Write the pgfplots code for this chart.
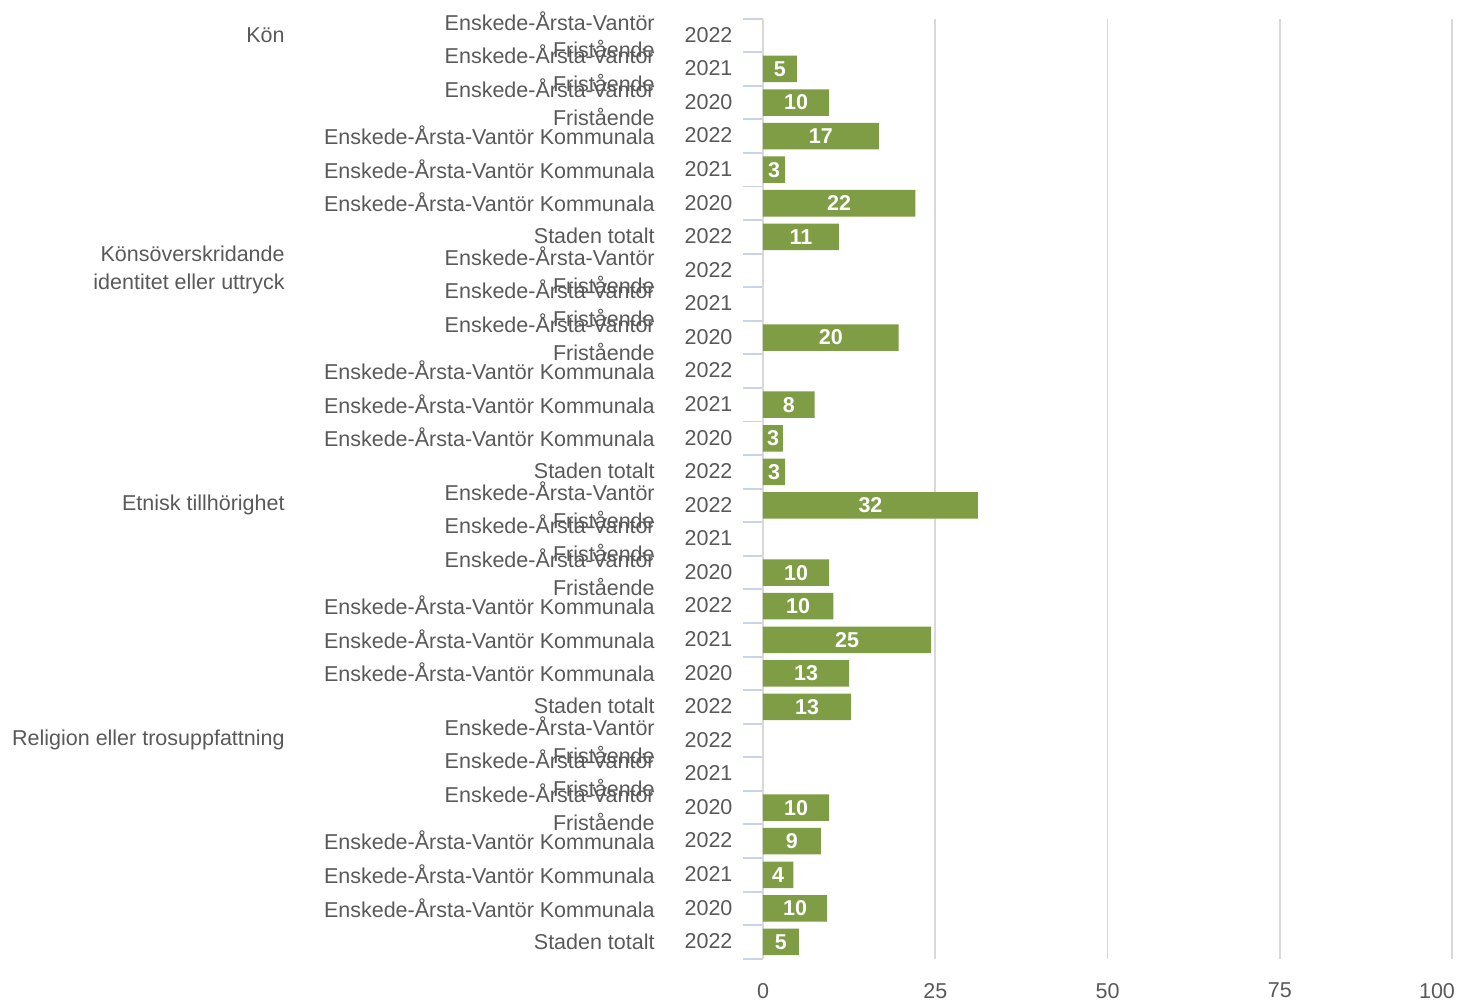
\documentclass[border=0pt]{standalone}
\usepackage{fontspec}
\setmainfont{Liberation Sans}
\usepackage{pgfplots}
\pgfplotsset{compat=1.18}
\definecolor{bargreen}{HTML}{7E9D44}
\definecolor{txtgray}{HTML}{595959}
\definecolor{gridgray}{HTML}{D9D9D9}
\definecolor{tickblue}{HTML}{C9D2EA}

\begin{document}
\begin{tikzpicture}[font=\fontsize{10}{13}\selectfont, text=txtgray]
\useasboundingbox (-354.9pt,-19.16pt) rectangle (322.8pt,445.95pt);
\begin{axis}[
  scale only axis, width=320.5pt, height=437.3pt,
  xmin=0, xmax=100, ymin=0.5, ymax=28.5,
  axis lines*=left, axis line style={-},
  x axis line style={draw=none},
  y axis line style={draw=gridgray, line width=0.9pt},
  xtick={0,25,50,75,100},
  xticklabels={0,25,50,75,100\hspace*{14pt}},
  xmajorgrids, major grid style={draw=gridgray, line width=0.9pt},
  major tick length=0pt,
  ytick={1,...,28},
  yticklabels={2022,2020,2021,2022,2020,2021,2022,
               2022,2020,2021,2022,2020,2021,2022,
               2022,2020,2021,2022,2020,2021,2022,
               2022,2020,2021,2022,2020,2021,2022},
  minor ytick={0.5,1.5,...,28.5},
  minor tick length=9.3pt, tick align=outside,
  minor y tick style={draw=tickblue, line width=0.9pt},
  tick label style={text=txtgray, font=\fontsize{10}{12}\selectfont},
  yticklabel style={anchor=east, inner sep=0pt, xshift=-14pt, yshift=0.3pt},
  xticklabel style={anchor=north, inner sep=0pt, yshift=-11.1pt},
  /pgf/number format/assume math mode=true,
  clip=false,
]
\addplot[xbar, bar width=0.79, fill=bargreen, draw=none,
  point meta=explicit symbolic,
  nodes near coords,
  visualization depends on=x \as \rawx,
  every node near coord/.append style={anchor=center, text=white,
    font=\fontsize{10}{12}\selectfont\bfseries,
    shift={(axis direction cs:-\rawx/2,0)}},
] table[x=v, y=y, meta=lab] {
y  v    lab
27 4.9  5
26 9.6  10
25 16.8 17
24 3.2  3
23 22.1 22
22 11.0 11
19 19.7 20
17 7.5  8
16 2.9  3
15 3.2  3
14 31.2 32
12 9.6  10
11 10.2 10
10 24.4 25
9  12.5 13
8  12.8 13
5  9.6  10
4  8.4  9
3  4.4  4
2  9.3  10
1  5.2  5
};

% row labels of each group
\pgfplotsinvokeforeach{28,21,14,7}{
  \node[anchor=east, align=right, inner sep=0pt, xshift=-50.2pt, yshift=0.3pt, font=\fontsize{10}{13}\selectfont] at (axis cs:0,#1) {Enskede-Årsta-Vantör\\Fristående};
  \node[anchor=east, align=right, inner sep=0pt, xshift=-50.2pt, yshift=0.3pt, font=\fontsize{10}{13}\selectfont] at (axis cs:0,{#1-1}) {Enskede-Årsta-Vantör\\Fristående};
  \node[anchor=east, align=right, inner sep=0pt, xshift=-50.2pt, yshift=0.3pt, font=\fontsize{10}{13}\selectfont] at (axis cs:0,{#1-2}) {Enskede-Årsta-Vantör\\Fristående};
  \node[anchor=east, inner sep=0pt, xshift=-50.2pt, yshift=0.3pt] at (axis cs:0,{#1-3}) {Enskede-Årsta-Vantör Kommunala};
  \node[anchor=east, inner sep=0pt, xshift=-50.2pt, yshift=0.3pt] at (axis cs:0,{#1-4}) {Enskede-Årsta-Vantör Kommunala};
  \node[anchor=east, inner sep=0pt, xshift=-50.2pt, yshift=0.3pt] at (axis cs:0,{#1-5}) {Enskede-Årsta-Vantör Kommunala};
  \node[anchor=east, inner sep=0pt, xshift=-50.2pt, yshift=0.3pt] at (axis cs:0,{#1-6}) {Staden totalt};
}

% group labels
\node[anchor=east, inner sep=0pt, xshift=-222.3pt, yshift=0.3pt] at (axis cs:0,28) {Kön};
\node[anchor=east, align=right, inner sep=0pt, xshift=-222.3pt, yshift=0.3pt, font=\fontsize{10}{13}\selectfont] at (axis cs:0,21) {Könsöverskridande\\identitet eller uttryck};
\node[anchor=east, inner sep=0pt, xshift=-222.3pt, yshift=0.3pt] at (axis cs:0,14) {Etnisk tillhörighet};
\node[anchor=east, inner sep=0pt, xshift=-222.3pt, yshift=0.3pt] at (axis cs:0,7) {Religion eller trosuppfattning};
\end{axis}
\end{tikzpicture}
\end{document}
